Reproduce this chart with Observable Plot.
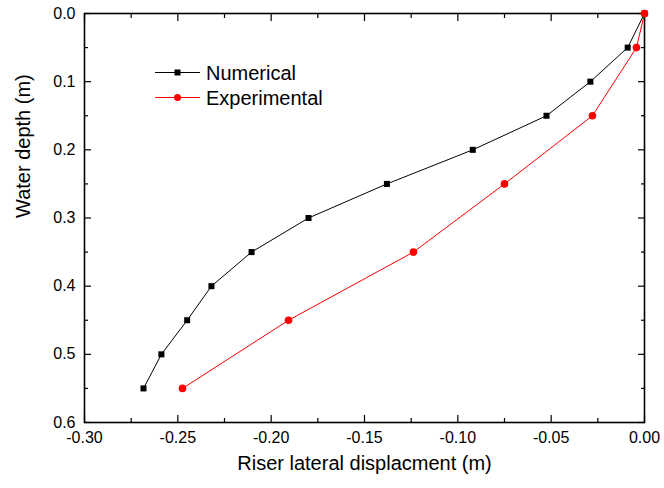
<!DOCTYPE html>
<html><head><meta charset="utf-8">
<script src="https://cdn.jsdelivr.net/npm/d3@7"></script>
<script src="https://cdn.jsdelivr.net/npm/@observablehq/plot@0.6"></script>
<style>body{margin:0;background:#fff}</style>
</head><body><div id="chart"></div>
<script>
const numX = [0, -0.009, -0.029, -0.0525, -0.092, -0.138, -0.180, -0.2105, -0.232, -0.245, -0.2588, -0.2684];
const numY = [0, 0.05, 0.10, 0.15, 0.20, 0.25, 0.30, 0.35, 0.40, 0.45, 0.50, 0.55];
const expX = [0, -0.0043, -0.0279, -0.075, -0.1238, -0.1907, -0.2475];
const expY = [0, 0.05, 0.15, 0.25, 0.35, 0.45, 0.55];
const xTicks = [-0.30, -0.25, -0.20, -0.15, -0.10, -0.05, 0.00];
const xMinor = [-0.275, -0.225, -0.175, -0.125, -0.075, -0.025];
const yTicks = [0.0, 0.1, 0.2, 0.3, 0.4, 0.5, 0.6];
const yMinor = [0.05, 0.15, 0.25, 0.35, 0.45, 0.55];
const seriesNames = ["Numerical", "Experimental"];
const seriesColors = ["#000000", "#ff0000"];

const num = numX.map((x, i) => ({x, y: numY[i]}));
const exp = expX.map((x, i) => ({x, y: expY[i]}));
const font = "Liberation Sans, Arial, sans-serif";

function legend(index, scales, values, dims) {
  const g = d3.create("svg:g");
  seriesNames.forEach((name, i) => {
    const y = 72.5 + i * 25;
    g.append("line").attr("x1", 155).attr("x2", 200).attr("y1", y).attr("y2", y)
      .attr("stroke", seriesColors[i]).attr("stroke-width", 1);
    if (i === 0) g.append("rect").attr("x", 174.5).attr("y", y - 3).attr("width", 6).attr("height", 6).attr("fill", seriesColors[i]);
    else g.append("circle").attr("cx", 177.5).attr("cy", y).attr("r", 3.5).attr("fill", seriesColors[i]);
    g.append("text").attr("x", 206).attr("y", y + 7).attr("font-size", 20).attr("font-family", font)
      .attr("text-anchor", "start").attr("fill", "#000").text(name);
  });
  return g.node();
}

const fmtX = d => d.toFixed(2);
const fmtY = d => d.toFixed(1);

const chart = Plot.plot({
  width: 664, height: 488,
  marginLeft: 84, marginRight: 20, marginTop: 13, marginBottom: 66,
  style: {fontFamily: font, background: "#fff", color: "#000"},
  x: {domain: [-0.30, 0], label: null, axis: null},
  y: {domain: [0, 0.6], reverse: true, label: null, axis: null},
  marks: [
    Plot.text(xTicks, {x: d => d, frameAnchor: "bottom", lineAnchor: "top", dy: 9, text: fmtX, fontSize: 16, fill: "#000"}),
    Plot.text(yTicks, {y: d => d, frameAnchor: "left", textAnchor: "end", dx: -9, text: fmtY, fontSize: 16, fill: "#000"}),
    Plot.axisX(xTicks, {anchor: "bottom", tickSize: -7, fill: "none", label: null, strokeWidth: 1.2}),
    Plot.axisX(xMinor, {anchor: "bottom", tickSize: -4, fill: "none", label: null, strokeWidth: 1.2}),
    Plot.axisX(xTicks, {anchor: "top", tickSize: -7, fill: "none", label: null, strokeWidth: 1.2}),
    Plot.axisX(xMinor, {anchor: "top", tickSize: -4, fill: "none", label: null, strokeWidth: 1.2}),
    Plot.axisY(yTicks, {anchor: "left", tickSize: -7, fill: "none", label: null, strokeWidth: 1.2}),
    Plot.axisY(yMinor, {anchor: "left", tickSize: -4, fill: "none", label: null, strokeWidth: 1.2}),
    Plot.axisY(yTicks, {anchor: "right", tickSize: -7, fill: "none", label: null, strokeWidth: 1.2}),
    Plot.axisY(yMinor, {anchor: "right", tickSize: -4, fill: "none", label: null, strokeWidth: 1.2}),
    Plot.frame({stroke: "#000", strokeWidth: 1.6}),
    Plot.line(num, {x: "x", y: "y", stroke: seriesColors[0], strokeWidth: 1}),
    Plot.line(exp, {x: "x", y: "y", stroke: seriesColors[1], strokeWidth: 1}),
    Plot.dot(num, {x: "x", y: "y", symbol: "square", r: 3.4, fill: seriesColors[0], stroke: "none"}),
    Plot.dot(exp, {x: "x", y: "y", symbol: "circle", r: 3.8, fill: seriesColors[1], stroke: "none"}),
    Plot.text(["Riser lateral displacment (m)"], {frameAnchor: "bottom", dy: 47, text: d => d, fontSize: 20, fill: "#000"}),
    Plot.text(["Water depth (m)"], {frameAnchor: "left", dx: -61, rotate: -90, text: d => d, fontSize: 20, fill: "#000"}),
    legend
  ]
});
document.getElementById("chart").append(chart);
</script></body></html>
